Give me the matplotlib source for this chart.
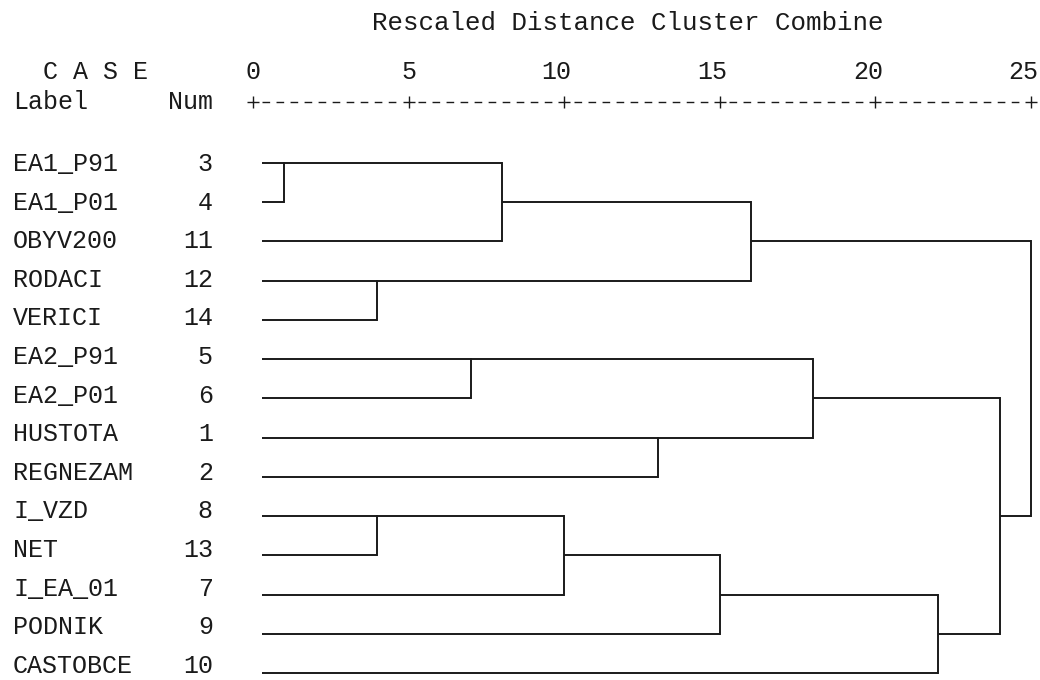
import numpy as np
import matplotlib
matplotlib.use('Agg')
import matplotlib.pyplot as plt

# Případy v pořadí dendrogramu
labels = ['EA1_P91', 'EA1_P01', 'OBYV200', 'RODACI', 'VERICI', 'EA2_P91', 'EA2_P01',
          'HUSTOTA', 'REGNEZAM', 'I_VZD', 'NET', 'I_EA_01', 'PODNIK', 'CASTOBCE']
case_num = [3, 4, 11, 12, 14, 5, 6, 1, 2, 8, 13, 7, 9, 10]

# Spojování shluků (C0, C1, ... jsou vzniklé shluky)
merge_a = [3, 12, 8, 5, 'C0', 'C2', 1, 'C5', 'C4', 'C3', 'C7', 'C9', 'C8']
merge_b = [4, 14, 13, 6, 11, 7, 2, 9, 'C1', 'C6', 10, 'C10', 'C11']
merge_dist = [1, 4, 4, 7, 8, 10, 13, 15, 16, 18, 22, 24, 25]

scale_ticks = [0, 5, 10, 15, 20, 25]

font = 'Liberation Mono'
fs = 18
ink = '#1a1a1a'

fig = plt.figure(figsize=(10.4, 6.8), dpi=100)
ax = fig.add_axes([0, 0, 1, 1])
px_x = 31.12
px_y = 39.23
ax.set_xlim(-253 / px_x, (1040 - 253) / px_x)
ax.set_ylim((680 - 163) / px_y, -163 / px_y)
ax.axis('off')

leaf_start = 0.29
nodes = {}
for i, c in enumerate(case_num):
    nodes[c] = (leaf_start, i)

for k, (a, b, d) in enumerate(zip(merge_a, merge_b, merge_dist)):
    xa, ra = nodes[a]
    xb, rb = nodes[b]
    ax.plot([xa, d], [ra, ra], color=ink, lw=1.4, solid_capstyle='butt')
    ax.plot([xb, d], [rb, rb], color=ink, lw=1.4, solid_capstyle='butt')
    ax.plot([d, d], [ra, rb], color=ink, lw=1.4, solid_capstyle='projecting')
    nodes['C%d' % k] = (d, (ra + rb) // 2)

# popisky případů (text má trochu menší rozestup než čáry)
off = 0.19
for i, (lab, n) in enumerate(zip(labels, case_num)):
    ty = (0.5 + 38.6 * i) / px_y + off
    ax.text(-7.71, ty, lab, family=font, fontsize=fs, ha='left', va='baseline', color=ink)
    ax.text(-1.29, ty, str(n), family=font, fontsize=fs, ha='right', va='baseline', color=ink)

# hlavička
row_num = -2.32
row_axis = -1.555
ax.text(-7.71, row_num + off, '  C A S E', family=font, fontsize=fs, ha='left', va='baseline', color=ink)
ax.text(-7.71, row_axis + off, 'Label', family=font, fontsize=fs, ha='left', va='baseline', color=ink)
ax.text(-1.29, row_axis + off, 'Num', family=font, fontsize=fs, ha='right', va='baseline', color=ink)
ax.text(3.82, -3.57 + off, 'Rescaled Distance Cluster Combine', family=font, fontsize=18.6,
        ha='left', va='baseline', color=ink)

for t in scale_ticks:
    ax.text(t + 0.24, row_num + off, str(t), family=font, fontsize=fs, ha='right', va='baseline', color=ink)

ax.plot(scale_ticks, [row_axis] * len(scale_ticks), ls='none', marker='+', ms=8, mew=1.0, color=ink)
for t0, t1 in zip(scale_ticks[:-1], scale_ticks[1:]):
    ax.plot([t0 + 0.3, t1 - 0.3], [row_axis, row_axis], color=ink, lw=1.0,
            linestyle=(0, (5.5, 4.6)))

fig.savefig('out.png', dpi=100)
